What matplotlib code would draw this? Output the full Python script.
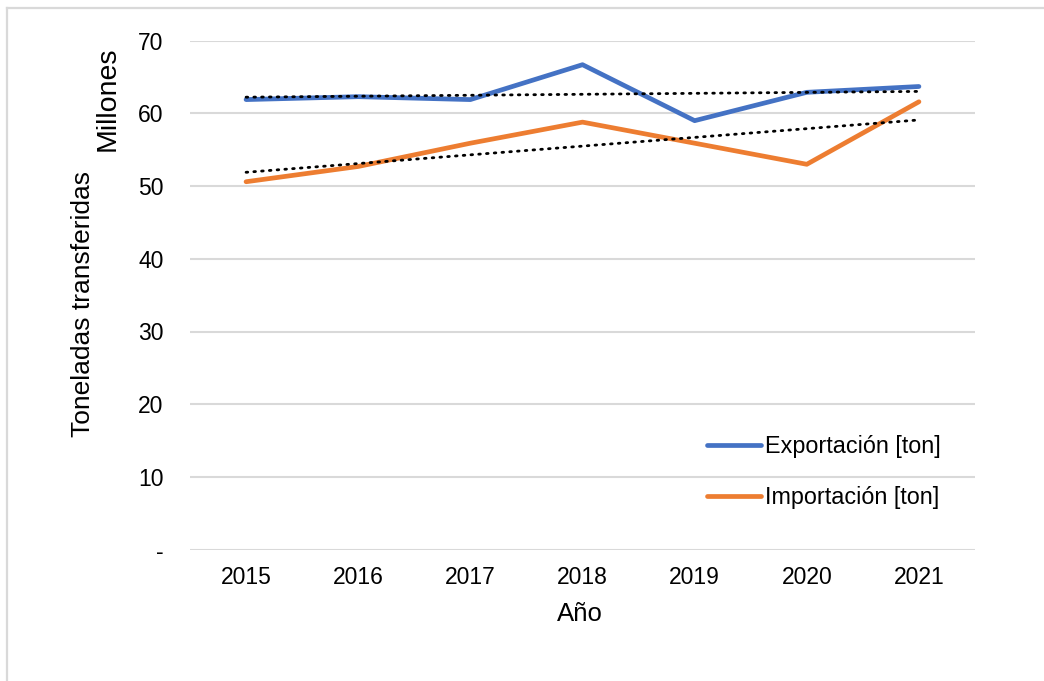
import numpy as np
import matplotlib
matplotlib.use("Agg")
import matplotlib.pyplot as plt
from matplotlib.lines import Line2D

years = ["2015", "2016", "2017", "2018", "2019", "2020", "2021"]
exportacion = [61.9, 62.3, 61.9, 66.7, 59.0, 62.9, 63.7]
importacion = [50.6, 52.7, 55.9, 58.8, 55.9, 53.0, 61.6]
yticks = [0, 10, 20, 30, 40, 50, 60, 70]
ytick_labels = ["-", "10", "20", "30", "40", "50", "60", "70"]

plt.rcParams['font.family'] = ['Liberation Sans', 'DejaVu Sans']
FS = 16.5

fig = plt.figure(figsize=(10.44, 6.81), dpi=100)
ax = fig.add_axes([190/1044, 1-549.6/681, 785/1044, (549.6-40.7)/681])

x = np.arange(len(years))
blue = '#4472c4'
orange = '#ed7d31'
ax.plot(x, exportacion, color=blue, lw=3.4, label='Exportación [ton]', solid_capstyle='round', zorder=3)
ax.plot(x, importacion, color=orange, lw=3.4, label='Importación [ton]', solid_capstyle='round', zorder=3)

for series in (exportacion, importacion):
    p = np.polyfit(x, series, 1)
    ax.plot(x, np.polyval(p, x), color='black', lw=2.0, linestyle=(0, (0.6, 2.2)),
            dash_capstyle='round', label='_nolegend_', zorder=4)

ax.set_xlim(-0.5, len(years)-0.5)
ax.set_ylim(0, 70)
ax.set_xticks(x)
ax.set_xticklabels(years)
ax.set_yticks(yticks)
ax.set_yticklabels(ytick_labels)
ax.yaxis.grid(True, color='#d9d9d9', lw=1.5)
ax.set_axisbelow(True)
for s in ax.spines.values():
    s.set_visible(False)
ax.tick_params(axis='both', length=0, labelsize=FS, colors='#000000')
ax.tick_params(axis='y', pad=19)
ax.tick_params(axis='x', pad=12)

fig.text(580/1044, 1-614/681, 'Año', ha='center', va='center', fontsize=18.5)
fig.text(83/1044, 1-304/681, 'Toneladas transferidas', ha='center', va='center', rotation=90, fontsize=19)
fig.text(108/1044, 1-99/681, 'Millones', ha='center', va='center', rotation=90, fontsize=20.5)

leg = ax.legend(loc='center', bbox_to_anchor=((824-190)/785, (549.6-472)/508.9), frameon=False,
                fontsize=16.8, handlelength=2.3, handletextpad=0.2, labelspacing=1.2)

# chart area border
fig.add_artist(Line2D([7/1044, 7/1044], [0, 1-8/681], color='#d9d9d9', lw=1.6))
fig.add_artist(Line2D([7/1044, 1], [1-8/681, 1-8/681], color='#d9d9d9', lw=1.6))

fig.savefig('out.png', dpi=100)
